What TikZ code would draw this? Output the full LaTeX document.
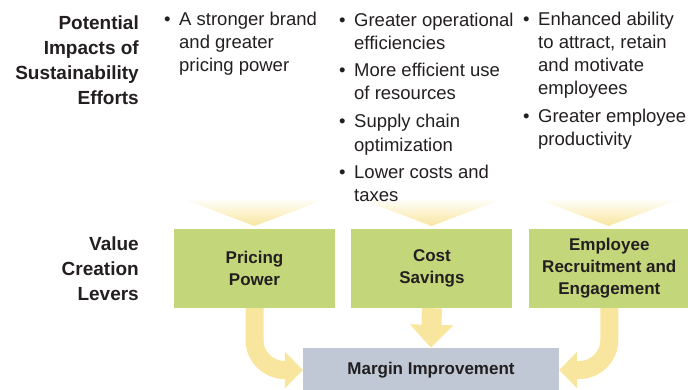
\documentclass[tikz,border=0pt]{standalone}
\usepackage{fontspec}
\setmainfont{Liberation Sans}
\usepackage{xcolor}
\usetikzlibrary{positioning,arrows.meta}

\definecolor{levergreen}{RGB}{196,214,122}
\definecolor{margingray}{RGB}{191,200,212}
\definecolor{flowyellow}{RGB}{249,230,158}
\definecolor{inkdark}{RGB}{35,31,32}

\tikzset{
  heading/.style={font=\fontsize{19}{25}\selectfont\bfseries, align=right, anchor=base east, inner sep=0pt, text=inkdark},
  impact/.style={font=\fontsize{18.5}{23}\selectfont, align=left, anchor=base west, inner sep=0pt, text=inkdark},
  lever/.style={fill=levergreen, minimum width=161pt, minimum height=79pt, inner sep=0pt,
    font=\fontsize{17}{22}\selectfont\bfseries, align=center, text=inkdark},
  flow/.style={draw=flowyellow, line width=18pt, -{Triangle[length=18pt,width=36pt]}},
}

% hanging bullet in front of a list line
\newcommand{\bul}{\llap{\textbullet\hspace{8.5pt}}}

\begin{document}
\begin{tikzpicture}[x=1pt,y=-1pt]
    \clip (0,0) rectangle (688,390);

    % funnels into the levers (behind the lists)
    \foreach \x in {254.5,431.5,608.5} {
        \shade[top color=white, bottom color=flowyellow] (\x-74,198) -- (\x+74,198) -- (\x,226) -- cycle;
    }

    % row headings (placed at the baseline of their last line)
    \node[heading] (impacts) at (139,105) {Potential\\Impacts of\\Sustainability\\Efforts};
    \node[heading] (levers) at (139,300) {Value\\Creation\\Levers};

    % impacts, one column per lever
    \node[impact] (brand) at (179,72) {\bul A stronger brand\\and greater\\pricing power};
    \node[impact] (ops) at (354,202) {\bul Greater operational\\efficiencies\\[5pt]\bul More efficient use\\of resources\\[5pt]\bul Supply chain\\optimization\\[5pt]\bul Lower costs and\\taxes};
    \node[impact] (people) at (538,146) {\bul Enhanced ability\\to attract, retain\\and motivate\\employees\\[5pt]\bul Greater employee\\productivity};

    \node[lever] (pricing) at (254.5,268.5) {Pricing\\Power};
    \node[lever, right=16pt of pricing] (cost) {Cost\\Savings};
    \node[lever, right=16pt of cost] (employee) {Employee\\Recruitment and\\Engagement};

    \node[fill=margingray, minimum width=256pt, minimum height=44pt, inner sep=0pt,
          font=\fontsize{17}{22}\selectfont\bfseries, text=inkdark] (margin) at (431,370) {Margin Improvement};

    \draw[flow, rounded corners=30pt] (pricing.south) |- (margin.west);
    \draw[flow, line width=20pt, -{Triangle[length=23pt,width=42pt]}] (cost.south) -- (margin.north);
    \draw[flow, rounded corners=30pt] (employee.south) |- (margin.east);
\end{tikzpicture}
\end{document}
